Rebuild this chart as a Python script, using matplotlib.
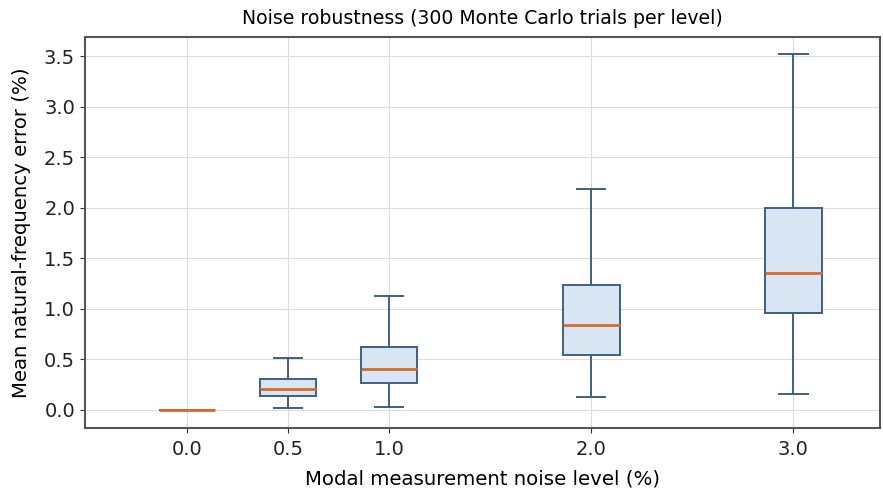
import matplotlib
matplotlib.use("Agg")
import matplotlib.pyplot as plt

# Niveles de ruido y estadisticas de cada caja
niveles = [0.0, 0.5, 1.0, 2.0, 3.0]
etiquetas = ["0.0", "0.5", "1.0", "2.0", "3.0"]
bigote_inf = [0.0, 0.02, 0.03, 0.13, 0.16]
q1 = [0.0, 0.14, 0.26, 0.54, 0.96]
mediana = [0.0, 0.21, 0.40, 0.84, 1.35]
q3 = [0.0, 0.30, 0.62, 1.23, 2.00]
bigote_sup = [0.0, 0.51, 1.13, 2.19, 3.52]

stats = []
for lo, a, m, b, hi, lab in zip(bigote_inf, q1, mediana, q3, bigote_sup, etiquetas):
    stats.append({"whislo": lo, "q1": a, "med": m, "q3": b, "whishi": hi,
                  "fliers": [], "label": lab})

fig = plt.figure(figsize=(8.83, 4.93), dpi=100)
ax = fig.add_axes([0.096, 0.132, 0.901, 0.793])

borde = "#3e5f86"
ax.bxp(stats, positions=niveles, widths=0.28, patch_artist=True, showfliers=False,
       boxprops=dict(facecolor="#d8e5f3", edgecolor=borde, linewidth=1.4),
       whiskerprops=dict(color=borde, linewidth=1.4),
       capprops=dict(color=borde, linewidth=1.4),
       medianprops=dict(color="#d8692a", linewidth=2))

ax.set_xlim(-0.505, 3.43)
ax.set_ylim(-0.18, 3.69)
ax.set_xticks(niveles)
ax.set_xticklabels(etiquetas)
ax.grid(True, color="#dddddd", linewidth=0.8)
ax.set_axisbelow(True)
for s in ax.spines.values():
    s.set_color("#555555")
    s.set_linewidth(1.5)

ax.tick_params(labelsize=14, colors="#333333", labelcolor="#222222")
ax.tick_params(axis="x", pad=5)
ax.set_title("Noise robustness (300 Monte Carlo trials per level)", fontsize=13.6, pad=9)
ax.set_xlabel("Modal measurement noise level (%)", fontsize=14.2, labelpad=8)
ax.set_ylabel("Mean natural-frequency error (%)", fontsize=14.2, labelpad=9)

fig.savefig("out.png", dpi=100)
